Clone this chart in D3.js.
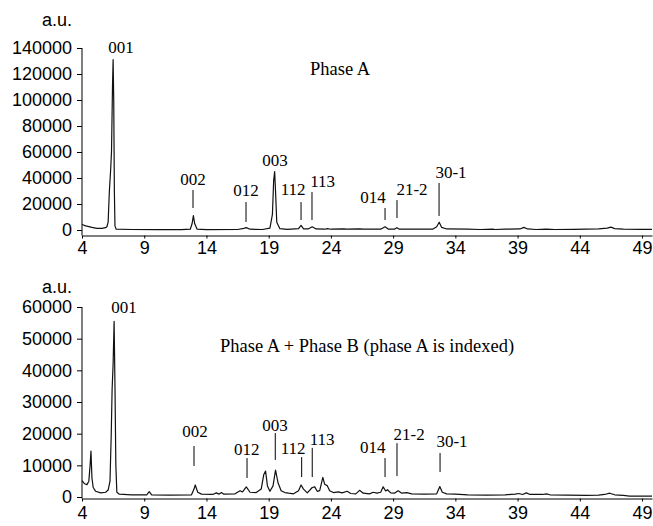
<!DOCTYPE html>
<html>
<head>
<meta charset="utf-8">
<script src="https://cdnjs.cloudflare.com/ajax/libs/d3/7.8.5/d3.min.js"></script>
<style>
  body { margin: 0; background: #fff; }
  .axis text { font-family: "Liberation Sans", Arial, sans-serif; font-size: 18px; fill: #000; }
  .axis line, .axis path { stroke: #000; }
  .note { font-family: "Liberation Serif", "Times New Roman", serif; font-size: 17px; fill: #000; }
  .title { font-family: "Liberation Serif", "Times New Roman", serif; font-size: 18.5px; fill: #000; }
</style>
</head>
<body>
<div id="chart"></div>
<script>
// 2-theta tick labels (shared by both panels)
var xTicks = [4, 9, 14, 19, 24, 29, 34, 39, 44, 49];

// Phase A pattern: [2theta, intensity]
var phaseA = [
  [4.0, 4200], [4.3, 3200], [4.8, 2000], [5.2, 1300], [5.6, 1200], [5.9, 1800],
  [6.0, 2500], [6.1, 6000], [6.2, 30000], [6.3, 46000], [6.37, 60000], [6.45, 110000],
  [6.5, 131000], [6.55, 100000], [6.6, 30000], [6.65, 3000], [6.75, 600], [8, 400],
  [10, 300], [12, 300], [12.7, 600], [12.85, 5000], [12.95, 11000], [13.05, 5000],
  [13.25, 600], [14, 300], [16.5, 400], [17.0, 1300], [17.2, 1800], [17.5, 600],
  [18.5, 400], [19.1, 1500], [19.3, 12000], [19.4, 38000], [19.48, 45000], [19.55, 30000],
  [19.65, 6000], [19.9, 1000], [20.5, 500], [21.4, 1000], [21.6, 3500], [21.8, 900],
  [22.2, 900], [22.5, 2500], [22.8, 800], [23.5, 600], [23.7, 1000], [24, 600],
  [25, 800], [25.3, 600], [26.3, 900], [26.6, 600], [28, 600], [28.35, 2500],
  [28.6, 700], [29.1, 600], [29.3, 1800], [29.5, 600], [32.2, 700], [32.5, 2500],
  [32.7, 6000], [32.9, 2000], [33.3, 800], [35, 600], [36, 400], [37, 700],
  [37.2, 400], [38, 600], [39.2, 800], [39.5, 2000], [39.8, 800], [40.5, 400],
  [41.3, 700], [42, 400], [43.5, 500], [45.5, 800], [46.2, 1500], [46.5, 2200],
  [46.8, 1100], [47.5, 600], [49, 500], [49.8, 500]
];

// Phase A + Phase B pattern: [2theta, intensity]
var phaseAB = [
  [4.0, 5200], [4.2, 4200], [4.4, 3900], [4.55, 5000], [4.65, 10000], [4.72, 14500],
  [4.8, 6000], [4.9, 3000], [5.1, 1800], [5.5, 1300], [5.9, 1500], [6.1, 2200],
  [6.25, 5000], [6.35, 20000], [6.42, 34000], [6.5, 42000], [6.58, 55500], [6.65, 35000],
  [6.72, 10000], [6.8, 1500], [7.0, 900], [8, 700], [9.2, 700], [9.4, 1700],
  [9.6, 700], [11, 600], [12.8, 700], [13.0, 2500], [13.1, 3800], [13.3, 1500],
  [13.6, 900], [14.5, 800], [14.8, 1300], [15.0, 900], [15.2, 1400], [15.4, 900],
  [16.3, 1000], [16.7, 2000], [16.9, 1600], [17.2, 3200], [17.5, 1500], [18.0, 1400],
  [18.4, 2500], [18.6, 7000], [18.75, 8200], [18.9, 3500], [19.1, 1800], [19.35, 3500],
  [19.55, 8500], [19.75, 4500], [20.0, 2000], [20.3, 1400], [20.6, 1200], [21.0, 1000],
  [21.4, 2000], [21.6, 3800], [21.8, 2500], [22.1, 1300], [22.5, 3000], [22.7, 3200],
  [22.9, 1800], [23.1, 2000], [23.35, 6200], [23.5, 4000], [23.7, 3600], [23.9, 2000],
  [24.2, 1400], [24.6, 1600], [24.9, 1300], [25.3, 1800], [25.6, 1100], [26.0, 1000],
  [26.3, 2100], [26.6, 1200], [27.1, 1000], [27.4, 1500], [27.7, 1200], [28.0, 1500],
  [28.2, 3200], [28.4, 1900], [28.55, 2300], [28.8, 1300], [29.1, 1200], [29.4, 2000],
  [29.7, 1200], [30.1, 1400], [30.5, 1000], [31.5, 900], [32.5, 1000], [32.75, 3300],
  [32.95, 1500], [33.3, 1000], [34, 900], [35, 700], [36.5, 600], [38, 700],
  [38.8, 900], [39.1, 1100], [39.4, 800], [39.7, 1300], [40, 800], [41, 800],
  [41.3, 1000], [41.6, 700], [43, 600], [44.5, 500], [45.5, 600], [46.0, 800],
  [46.4, 1200], [46.8, 700], [47.5, 500], [48, 300], [49.8, 300]
];

// reflection labels (hkl of phase A)
var hkl = ["001", "002", "012", "003", "112", "113", "014", "21-2", "30-1"];

// top panel: label position (2theta, intensity) and marker line (2theta, from, to)
var topLabelX = [7.13, 12.92, 17.18, 19.5, 20.96, 23.33, 27.38, 30.52, 33.65];
var topLabelY = [136000, 34600, 26200, 49500, 26900, 33000, 20800, 26900, 40000];
var topMarkX = [null, 12.92, 17.18, null, 21.6, 22.48, 28.35, 29.31, 32.69];
var topMarkHi = [null, 30800, 21500, null, 21500, 29200, 16900, 23000, 36200];
var topMarkLo = [null, 16900, 6200, null, 7700, 7700, 7700, 9200, 10800];

// bottom panel
var botLabelX = [7.37, 13.08, 17.24, 19.51, 20.96, 23.3, 27.36, 30.28, 33.73];
var botLabelY = [58000, 18800, 13300, 20900, 13600, 16400, 13900, 18000, 15900];
var botMarkX = [null, 13.0, 17.26, 19.53, 21.65, 22.5, 28.35, 29.31, 32.77];
var botMarkHi = [null, 16100, 12300, 20200, 12600, 15500, 12300, 17000, 13900];
var botMarkLo = [null, 9800, 6000, 11700, 6300, 6300, 6300, 6600, 7900];

var topYTicks = [0, 20000, 40000, 60000, 80000, 100000, 120000, 140000];
var botYTicks = [0, 10000, 20000, 30000, 40000, 50000, 60000];

var width = 653, height = 526;

var svg = d3.select("#chart").append("svg")
  .attr("width", width)
  .attr("height", height);

// shared x scale
var x = d3.scaleLinear().domain([4, 49.8]).range([82, 652]);

function panel(cfg) {
  var y = d3.scaleLinear().domain([0, cfg.yMax]).range([cfg.y0, cfg.yTop]);
  var axisY = cfg.y0 + cfg.gap;

  // x axis
  svg.append("g")
    .attr("class", "axis")
    .attr("transform", "translate(0," + axisY + ")")
    .call(d3.axisBottom(x).tickValues(xTicks).tickSize(3).tickSizeOuter(0).tickPadding(cfg.xPad));

  // y axis
  var gy = svg.append("g")
    .attr("class", "axis")
    .attr("transform", "translate(" + x(4) + ",0)")
    .call(d3.axisLeft(y).tickValues(cfg.yTicks).tickSize(5).tickSizeOuter(0).tickPadding(5).tickFormat(d3.format("d")));
  gy.select(".domain").remove();
  gy.append("line")
    .attr("x1", 0).attr("x2", 0)
    .attr("y1", y(cfg.yMax)).attr("y2", axisY)
    .attr("stroke", "#000");

  // unit label
  svg.append("text")
    .attr("x", 72)
    .attr("y", cfg.unitY)
    .attr("text-anchor", "end")
    .style("font-family", "'Liberation Sans', Arial, sans-serif")
    .style("font-size", "18px")
    .text("a.u.");

  // pattern
  var line = d3.line()
    .x(function(d) { return x(d[0]); })
    .y(function(d) { return y(d[1]); });
  svg.append("path")
    .datum(cfg.data)
    .attr("d", line)
    .attr("fill", "none")
    .attr("stroke", "#111")
    .attr("stroke-width", 1.2)
    .attr("stroke-linejoin", "round");

  // hkl markers
  hkl.forEach(function(lbl, i) {
    svg.append("text")
      .attr("class", "note")
      .attr("x", x(cfg.labelX[i]))
      .attr("y", y(cfg.labelY[i]))
      .attr("text-anchor", "middle")
      .text(lbl);
    if (cfg.markX[i] !== null) {
      svg.append("line")
        .attr("x1", x(cfg.markX[i])).attr("x2", x(cfg.markX[i]))
        .attr("y1", y(cfg.markHi[i])).attr("y2", y(cfg.markLo[i]))
        .attr("stroke", "#000")
        .attr("stroke-width", 1);
    }
  });

  // panel title
  svg.append("text")
    .attr("class", "title")
    .attr("x", x(cfg.titleX))
    .attr("y", y(cfg.titleY))
    .text(cfg.title);
}

panel({
  data: phaseA, yMax: 140000, yTicks: topYTicks, y0: 230, yTop: 48, gap: 5.5, xPad: 3,
  unitY: 26,
  labelX: topLabelX, labelY: topLabelY, markX: topMarkX, markHi: topMarkHi, markLo: topMarkLo,
  title: "Phase A", titleX: 22.32, titleY: 119000
});

panel({
  data: phaseAB, yMax: 60000, yTicks: botYTicks, y0: 497, yTop: 307, gap: 1.5, xPad: 5,
  unitY: 293,
  labelX: botLabelX, labelY: botLabelY, markX: botMarkX, markHi: botMarkHi, markLo: botMarkLo,
  title: "Phase A + Phase B (phase A is indexed)", titleX: 15.09, titleY: 45900
});
</script>
</body>
</html>
